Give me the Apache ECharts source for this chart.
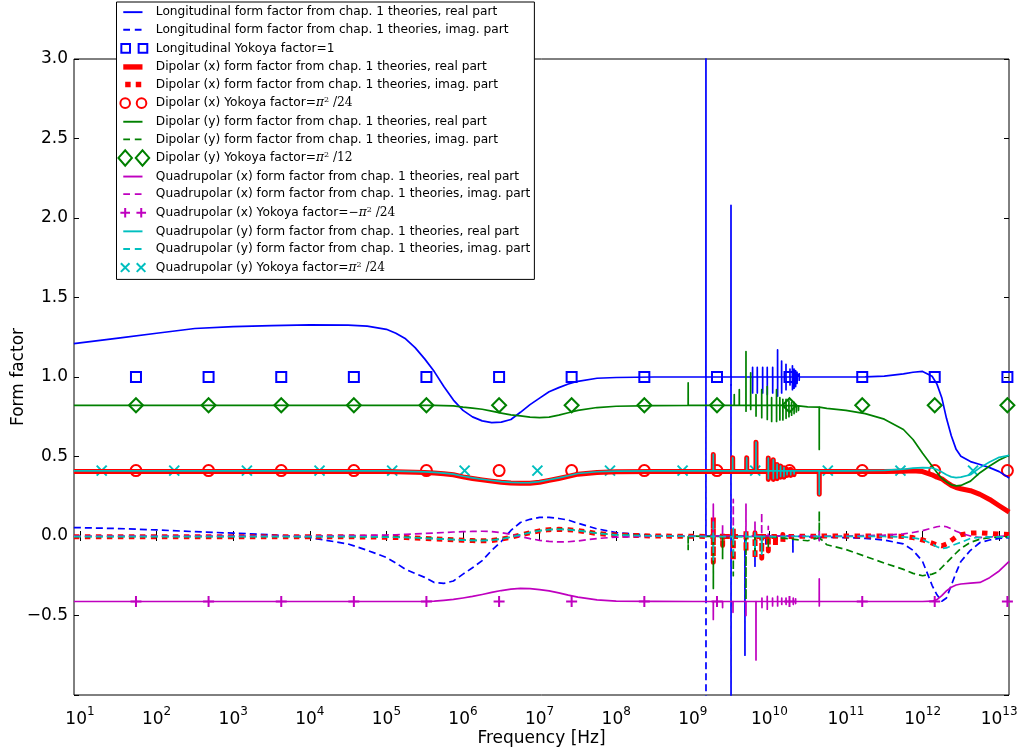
<!DOCTYPE html>
<html>
<head>
<meta charset="utf-8">
<script src="https://cdn.jsdelivr.net/npm/echarts@6/dist/echarts.min.js"></script>
<style>
  html, body { margin: 0; padding: 0; background: #fff; }
  #chart { width: 1023px; height: 751px; }
</style>
</head>
<body>
<div id="chart"></div>
<script>
// ---------- frequency grids [Hz] ----------
const freqLow = [8.32, 31.6, 100, 316, 1000, 3160, 1e4, 3.16e4, 5.62e4, 1e5, 1.33e5, 1.78e5, 2.37e5,
  3.16e5, 4.22e5, 5.62e5, 7.5e5, 1e6, 1.33e6, 1.78e6, 2.37e6, 3.16e6, 4.22e6, 5.62e6, 7.5e6, 1e7,
  1.33e7, 1.78e7, 2.37e7, 3.16e7, 5.62e7, 1e8, 3.16e8, 1e9];
const freqHigh = [3.16e10, 5.62e10, 1e11, 1.78e11, 3.16e11, 5.62e11, 7.5e11, 1e12, 1.33e12, 1.54e12,
  1.78e12, 2.05e12, 2.37e12, 2.74e12, 3.16e12, 4.22e12, 5.62e12, 7.5e12, 1e13, 1.35e13];

// ---------- longitudinal form factor ----------
const longRealLow = [1.21, 1.245, 1.275, 1.305, 1.317, 1.323, 1.328, 1.326, 1.32, 1.30, 1.275, 1.24,
  1.185, 1.114, 1.034, 0.94, 0.855, 0.79, 0.749, 0.724, 0.713, 0.716, 0.733, 0.778, 0.826, 0.867,
  0.907, 0.933, 0.956, 0.973, 0.992, 0.997, 1.0, 1.0];
const longRealHigh = [1.0, 1.0, 1.0, 1.001, 1.005, 1.02, 1.03, 1.035, 1.005, 0.955, 0.87, 0.74,
  0.63, 0.545, 0.502, 0.468, 0.45, 0.43, 0.405, 0.365];
const longImagLow = [0.053, 0.047, 0.038, 0.027, 0.018, 0.008, -0.01, -0.05, -0.09, -0.135, -0.17,
  -0.21, -0.235, -0.26, -0.293, -0.298, -0.283, -0.24, -0.2, -0.155, -0.09, -0.035, 0.035, 0.085,
  0.105, 0.117, 0.117, 0.11, 0.1, 0.08, 0.045, 0.021, 0.003, 0.0];
const longImagHigh = [-0.005, -0.008, -0.01, -0.015, -0.025, -0.05, -0.09, -0.16, -0.31, -0.37,
  -0.41, -0.39, -0.31, -0.23, -0.16, -0.09, -0.041, -0.025, -0.015, -0.01];

// ---------- dipolar (x) form factor ----------
const dipXRealLow = [0.405, 0.405, 0.405, 0.405, 0.405, 0.405, 0.405, 0.405, 0.405, 0.405, 0.404,
  0.403, 0.401, 0.399, 0.396, 0.392, 0.385, 0.372, 0.362, 0.353, 0.345, 0.338, 0.333, 0.331, 0.332,
  0.338, 0.35, 0.362, 0.375, 0.389, 0.4, 0.404, 0.405, 0.405];
const dipXRealHigh = [0.405, 0.405, 0.405, 0.405, 0.406, 0.408, 0.41, 0.405, 0.385, 0.37, 0.36,
  0.338, 0.318, 0.305, 0.297, 0.285, 0.262, 0.23, 0.19, 0.15];
const dipXImagLow = [-0.005, -0.005, -0.005, -0.005, -0.005, -0.005, -0.005, -0.005, -0.006, -0.008,
  -0.009, -0.01, -0.012, -0.015, -0.018, -0.021, -0.024, -0.027, -0.029, -0.03, -0.028, -0.02,
  -0.008, 0.006, 0.02, 0.032, 0.04, 0.042, 0.04, 0.034, 0.016, 0.006, 0.0, -0.002];
const dipXImagHigh = [-0.002, 0.0, 0.0, 0.0, 0.0, -0.003, -0.01, -0.025, -0.045, -0.056, -0.062,
  -0.05, -0.028, -0.006, 0.008, 0.018, 0.02, 0.016, 0.012, 0.01];

// ---------- dipolar (y) form factor ----------
const dipYRealLow = [0.821, 0.821, 0.821, 0.821, 0.821, 0.821, 0.821, 0.821, 0.821, 0.821, 0.821,
  0.821, 0.821, 0.821, 0.821, 0.82, 0.818, 0.81, 0.804, 0.797, 0.785, 0.773, 0.762, 0.755, 0.748,
  0.744, 0.748, 0.76, 0.775, 0.79, 0.808, 0.816, 0.82, 0.821];
const dipYRealHigh = [0.812, 0.803, 0.79, 0.77, 0.735, 0.67, 0.607, 0.52, 0.44, 0.4, 0.362, 0.34,
  0.322, 0.315, 0.318, 0.345, 0.398, 0.44, 0.478, 0.508];
const dipYImagLow = [-0.003, -0.003, -0.003, -0.003, -0.003, -0.003, -0.003, -0.003, -0.004, -0.006,
  -0.007, -0.008, -0.01, -0.013, -0.016, -0.019, -0.022, -0.025, -0.027, -0.028, -0.026, -0.018,
  -0.006, 0.008, 0.022, 0.034, 0.041, 0.043, 0.041, 0.035, 0.018, 0.007, 0.001, -0.001];
const dipYImagHigh = [-0.03, -0.055, -0.085, -0.128, -0.17, -0.21, -0.235, -0.25, -0.24, -0.228,
  -0.198, -0.168, -0.138, -0.107, -0.078, -0.04, -0.02, -0.01, -0.006, -0.005];

// ---------- quadrupolar (x) form factor ----------
const quadXRealLow = [-0.412, -0.412, -0.412, -0.412, -0.412, -0.412, -0.412, -0.412, -0.412, -0.412,
  -0.412, -0.412, -0.412, -0.412, -0.41, -0.405, -0.399, -0.39, -0.38, -0.368, -0.355, -0.343,
  -0.334, -0.33, -0.331, -0.337, -0.345, -0.358, -0.372, -0.384, -0.402, -0.409, -0.411, -0.412];
const quadXRealHigh = [-0.412, -0.412, -0.412, -0.412, -0.412, -0.412, -0.412, -0.412, -0.41, -0.4,
  -0.375, -0.345, -0.322, -0.308, -0.302, -0.296, -0.292, -0.262, -0.22, -0.16];
const quadXImagLow = [0.0, 0.0, 0.0, 0.0, 0.0, 0.0, 0.0, 0.002, 0.004, 0.006, 0.008, 0.01, 0.013,
  0.016, 0.019, 0.022, 0.025, 0.027, 0.029, 0.03, 0.028, 0.021, 0.01, -0.004, -0.017, -0.027,
  -0.034, -0.037, -0.036, -0.031, -0.016, -0.007, -0.001, 0.0];
const quadXImagHigh = [0.0, 0.0, 0.0, 0.002, 0.005, 0.013, 0.022, 0.034, 0.05, 0.058, 0.063, 0.058,
  0.045, 0.03, 0.018, 0.0, -0.01, -0.006, -0.002, 0.0];

// ---------- quadrupolar (y) form factor ----------
const quadYRealLow = [0.409, 0.409, 0.409, 0.409, 0.409, 0.409, 0.409, 0.409, 0.409, 0.409, 0.408,
  0.407, 0.405, 0.403, 0.4, 0.396, 0.389, 0.376, 0.366, 0.357, 0.349, 0.342, 0.337, 0.335, 0.336,
  0.342, 0.354, 0.366, 0.379, 0.393, 0.404, 0.408, 0.409, 0.409];
const quadYRealHigh = [0.409, 0.41, 0.41, 0.411, 0.413, 0.42, 0.427, 0.43, 0.428, 0.418, 0.403,
  0.385, 0.372, 0.367, 0.37, 0.385, 0.43, 0.465, 0.495, 0.507];
const quadYImagLow = [-0.004, -0.004, -0.004, -0.004, -0.004, -0.004, -0.004, -0.004, -0.005, -0.007,
  -0.008, -0.009, -0.011, -0.014, -0.017, -0.02, -0.023, -0.026, -0.028, -0.029, -0.027, -0.019,
  -0.007, 0.007, 0.021, 0.033, 0.04, 0.042, 0.04, 0.034, 0.017, 0.006, 0.0, -0.002];
const quadYImagHigh = [-0.002, -0.002, -0.002, -0.002, -0.003, -0.006, -0.012, -0.022, -0.05, -0.068,
  -0.079, -0.075, -0.062, -0.05, -0.04, -0.015, -0.008, -0.006, -0.005, -0.005];

// ---------- resonances: [frequency, baseline, first extreme, second extreme] ----------
const longRealSpikes = [[1.486e9, 1.0, 3.6, 1.0], [3.155e9, 1.0, 2.08, 0.95], [6.04e9, 1.0, 1.06, 0.9],
  [6.95e9, 1.0, 1.06, 0.9], [8.17e9, 1.0, 1.06, 0.9], [9.38e9, 1.0, 1.06, 0.89], [1.104e10, 1.0, 1.06, 0.9],
  [1.28e10, 1.0, 1.17, 0.88], [1.445e10, 1.0, 1.1, 0.9], [1.648e10, 1.0, 1.08, 0.92],
  [1.858e10, 1.0, 1.05, 0.95], [2.0e10, 1.0, 1.07, 0.92], [2.1e10, 1.0, 1.05, 0.93],
  [2.2e10, 1.0, 1.04, 0.94], [2.3e10, 1.0, 1.03, 0.96], [2.45e10, 1.0, 1.02, 0.98]];
const longImagSpikes = [[1.486e9, 0.0, 1.0, -1.3], [3.155e9, 0.0, 0.95, -1.3], [4.8e9, 0.0, -0.75, 0.0],
  [6.49e9, 0.0, -0.19, 0.0], [9.0e9, 0.0, -0.05, 0.0], [2.03e10, 0.0, -0.1, 0.0]];
const dipXRealSpikes = [[1.854e9, 0.405, 0.513], [3.32e9, 0.405, 0.492], [5.06e9, 0.405, 0.492],
  [6.69e9, 0.405, 0.59], [9.68e9, 0.405, 0.49, 0.356], [1.125e10, 0.405, 0.48, 0.356],
  [1.26e10, 0.405, 0.45, 0.36], [1.4e10, 0.405, 0.44, 0.37], [1.55e10, 0.405, 0.43, 0.37],
  [1.7e10, 0.405, 0.42, 0.38], [1.9e10, 0.405, 0.42, 0.38], [2.1e10, 0.405, 0.415, 0.385],
  [4.48e10, 0.405, 0.262]];
const dipXImagSpikes = [[1.854e9, -0.003, 0.117, -0.165], [2.45e9, -0.003, 0.03, -0.06],
  [3.38e9, -0.003, 0.06, -0.157], [4.95e9, -0.003, 0.04, -0.1], [6.49e9, -0.003, 0.02, -0.146],
  [7.94e9, -0.003, 0.02, -0.14], [9.68e9, -0.003, 0.01, -0.095], [1.2e10, -0.003, 0.01, -0.06],
  [1.5e10, -0.003, 0.01, -0.04]];
const dipYRealSpikes = [[8.71e8, 0.821, 0.963], [3.48e9, 0.821, 0.89], [4.05e9, 0.821, 0.92],
  [4.95e9, 0.821, 1.16, 0.785], [5.7e9, 0.821, 1.026, 0.796], [6.69e9, 0.821, 0.89, 0.754],
  [7.94e9, 0.821, 0.92, 0.744], [9.38e9, 0.821, 0.94, 0.733], [1.07e10, 0.821, 0.87, 0.72],
  [1.24e10, 0.821, 0.92, 0.72], [1.37e10, 0.821, 0.87, 0.73], [1.5e10, 0.821, 0.86, 0.73],
  [1.65e10, 0.82, 0.86, 0.74], [1.8e10, 0.82, 0.85, 0.75], [1.95e10, 0.82, 0.84, 0.76],
  [2.1e10, 0.82, 0.84, 0.77], [2.25e10, 0.818, 0.83, 0.78], [2.4e10, 0.818, 0.825, 0.79],
  [4.48e10, 0.81, 0.544]];
const dipYImagSpikes = [[8.71e8, -0.003, -0.085], [1.854e9, -0.003, 0.02, -0.33], [2.45e9, -0.003, -0.146],
  [3.38e9, -0.003, -0.25], [4.95e9, -0.003, -0.4], [6.49e9, -0.003, -0.12], [7.94e9, -0.003, -0.1],
  [9.68e9, -0.003, -0.08], [4.48e10, -0.01, 0.157, -0.04]];
const quadXRealSpikes = [[1.854e9, -0.412, -0.525], [2.45e9, -0.412, -0.45], [3.35e9, -0.412, -0.48],
  [4.95e9, -0.412, -0.5], [6.69e9, -0.412, -0.78], [8.0e9, -0.412, -0.39, -0.45],
  [9.38e9, -0.412, -0.38, -0.46], [1.1e10, -0.412, -0.39, -0.44], [1.28e10, -0.412, -0.38, -0.44],
  [1.45e10, -0.412, -0.39, -0.43], [1.65e10, -0.412, -0.39, -0.43], [1.85e10, -0.412, -0.4, -0.42],
  [2.05e10, -0.412, -0.39, -0.43], [2.2e10, -0.412, -0.395, -0.425], [2.35e10, -0.412, -0.4, -0.42],
  [4.48e10, -0.412, -0.27, -0.44]];
const quadXImagSpikes = [[1.854e9, 0.0, 0.2], [2.45e9, 0.0, 0.073], [3.38e9, 0.0, 0.23],
  [4.95e9, 0.0, 0.2], [6.49e9, 0.0, 0.094], [7.94e9, 0.0, 0.147], [9.68e9, 0.0, 0.06],
  [4.48e10, 0.0, 0.03, -0.03]];
const quadYRealSpikes = [[1.854e9, 0.409, 0.513], [3.32e9, 0.409, 0.492], [5.06e9, 0.409, 0.492],
  [6.69e9, 0.409, 0.59], [9.68e9, 0.409, 0.49, 0.36], [1.125e10, 0.409, 0.48, 0.36],
  [1.26e10, 0.409, 0.45, 0.365], [1.4e10, 0.409, 0.44, 0.375], [1.55e10, 0.409, 0.43, 0.375],
  [1.7e10, 0.409, 0.42, 0.385], [1.9e10, 0.409, 0.42, 0.385], [2.1e10, 0.409, 0.415, 0.39],
  [4.48e10, 0.409, 0.262]];
const quadYImagSpikes = [[1.854e9, -0.004, 0.1, -0.15], [3.38e9, -0.004, 0.05, -0.14],
  [4.95e9, -0.004, 0.02, -0.09], [6.49e9, -0.004, 0.02, -0.12], [7.94e9, -0.004, 0.01, -0.12]];

// ---------- Yokoya factors ----------
const yokoyaFreqA = [53.8, 477, 4240, 3.76e4, 3.33e5, 2.96e6, 2.62e7, 2.33e8, 2.07e9, 1.83e10,
  1.63e11, 1.44e12, 1.28e13];
const yokoyaFreqB = [19.2, 170, 1510, 1.34e4, 1.19e5, 1.05e6, 9.36e6, 8.3e7, 7.36e8, 6.53e9,
  5.79e10, 5.14e11, 4.56e12];
const yokoyaLong = 1.0;
const yokoyaDipX = 0.4112;   // pi^2/24
const yokoyaDipY = 0.8225;   // pi^2/12
const yokoyaQuadX = -0.4112; // -pi^2/24
const yokoyaQuadY = 0.4112;  // pi^2/24

// ---------- axes ----------
const decadeTicks = [10, 100, 1e3, 1e4, 1e5, 1e6, 1e7, 1e8, 1e9, 1e10, 1e11, 1e12, 1e13];
const freqMin = 8.35, freqMax = 1.343e13;
const formMin = -1.0, formMax = 3.0, formStep = 0.5;

const BLUE = '#0000ff', GREEN = '#008000', RED = '#ff0000', MAGENTA = '#bf00bf', CYAN = '#00bfbf';
const FONT = 'DejaVu Sans';

// assemble a curve from the two grids plus its narrow resonances
function curve(low, high, spikes) {
  const pts = [];
  freqLow.forEach((f, i) => pts.push([f, low[i]]));
  freqHigh.forEach((f, i) => pts.push([f, high[i]]));
  spikes.forEach(([f, base, e1, e2]) => {
    pts.push([f / 1.002, base], [f / 1.0005, e1], [f * 1.0005, e2 === undefined ? base : e2], [f * 1.002, base]);
  });
  pts.sort((a, b) => a[0] - b[0]);
  return pts;
}

function lineSeries(name, data, color, width, dash) {
  return {
    type: 'line', name, data, symbol: 'none', silent: true, animation: false, clip: true,
    itemStyle: { color },
    lineStyle: { color, width, type: dash || 'solid', cap: 'butt', join: 'round' },
    emphasis: { disabled: true }
  };
}

function markerSeries(name, freqs, value, symbol, size, color) {
  return {
    type: 'scatter', name, symbol, symbolSize: size, silent: true, animation: false,
    data: freqs.map(f => [f, value]),
    itemStyle: { color: 'none', borderColor: color, borderWidth: 2, opacity: 1 },
    emphasis: { disabled: true }
  };
}

const NAMES = [
  'Longitudinal form factor from chap. 1 theories, real part',
  'Longitudinal form factor from chap. 1 theories, imag. part',
  'Longitudinal Yokoya factor=1',
  'Dipolar (x) form factor from chap. 1 theories, real part',
  'Dipolar (x) form factor from chap. 1 theories, imag. part',
  'Dipolar (x) Yokoya factor=π² /24',
  'Dipolar (y) form factor from chap. 1 theories, real part',
  'Dipolar (y) form factor from chap. 1 theories, imag. part',
  'Dipolar (y) Yokoya factor=π² /12',
  'Quadrupolar (x) form factor from chap. 1 theories, real part',
  'Quadrupolar (x) form factor from chap. 1 theories, imag. part',
  'Quadrupolar (x) Yokoya factor=−π² /24',
  'Quadrupolar (y) form factor from chap. 1 theories, real part',
  'Quadrupolar (y) form factor from chap. 1 theories, imag. part',
  'Quadrupolar (y) Yokoya factor=π² /24'
];

const DASH = [7, 4];
const series = [
  lineSeries(NAMES[0], curve(longRealLow, longRealHigh, longRealSpikes), BLUE, 1.7),
  lineSeries(NAMES[1], curve(longImagLow, longImagHigh, longImagSpikes), BLUE, 1.7, DASH),
  markerSeries(NAMES[2], yokoyaFreqA, yokoyaLong, 'rect', 10, BLUE),
  lineSeries(NAMES[3], curve(dipXRealLow, dipXRealHigh, dipXRealSpikes), RED, 5),
  lineSeries(NAMES[4], curve(dipXImagLow, dipXImagHigh, dipXImagSpikes), RED, 5, [5.5, 5.5]),
  markerSeries(NAMES[5], yokoyaFreqA, yokoyaDipX, 'circle', 11, RED),
  lineSeries(NAMES[6], curve(dipYRealLow, dipYRealHigh, dipYRealSpikes), GREEN, 1.7),
  lineSeries(NAMES[7], curve(dipYImagLow, dipYImagHigh, dipYImagSpikes), GREEN, 1.7, DASH),
  markerSeries(NAMES[8], yokoyaFreqA, yokoyaDipY, 'diamond', [14, 14], GREEN),
  lineSeries(NAMES[9], curve(quadXRealLow, quadXRealHigh, quadXRealSpikes), MAGENTA, 1.7),
  lineSeries(NAMES[10], curve(quadXImagLow, quadXImagHigh, quadXImagSpikes), MAGENTA, 1.7, DASH),
  markerSeries(NAMES[11], yokoyaFreqA, yokoyaQuadX, 'path://M0,5H10M5,0V10', 11, MAGENTA),
  lineSeries(NAMES[12], curve(quadYRealLow, quadYRealHigh, quadYRealSpikes), CYAN, 1.7),
  lineSeries(NAMES[13], curve(quadYImagLow, quadYImagHigh, quadYImagSpikes), CYAN, 1.7, DASH),
  markerSeries(NAMES[14], yokoyaFreqB, yokoyaQuadY, 'path://M0,0L10,10M10,0L0,10', 10, CYAN)
];

// legend handles, drawn inside a 34 x 18 box
const BOX = 'M0,0M34,18';
const ICON = {
  solid: BOX + 'M6,8H26V10H6Z',
  dashed: BOX + 'M6,8H13V10H6Z M18,8H25V10H18Z',
  thick: BOX + 'M6,6.2H26V11.8H6Z',
  dotted: BOX + 'M8,6.2H13.7V11.8H8Z M19,6.2H24.7V11.8H19Z',
  squares: BOX + 'M4,4.5H13V13.5H4Z M22,4.5H31V13.5H22Z',
  circles: BOX + 'M3,9a5,5 0 1,0 10,0a5,5 0 1,0 -10,0Z M20,9a5,5 0 1,0 10,0a5,5 0 1,0 -10,0Z',
  diamonds: BOX + 'M1,9L8,1L15,9L8,17Z M19,9L26,1L33,9L26,17Z',
  plus: BOX + 'M3,9H13M8,4V14 M19.7,9H29.7M24.7,4V14',
  cross: BOX + 'M3.5,4.5L12.5,13.5M12.5,4.5L3.5,13.5 M20,4.5L29,13.5M29,4.5L20,13.5'
};
function filled(name, icon, color) {
  return { name, icon: 'path://' + icon, itemStyle: { color, borderWidth: 0 } };
}
function stroked(name, icon, color) {
  return { name, icon: 'path://' + icon, itemStyle: { color: 'rgba(0,0,0,0)', borderColor: color, borderWidth: 2 } };
}
const legendData = [
  filled(NAMES[0], ICON.solid, BLUE), filled(NAMES[1], ICON.dashed, BLUE), stroked(NAMES[2], ICON.squares, BLUE),
  filled(NAMES[3], ICON.thick, RED), filled(NAMES[4], ICON.dotted, RED), stroked(NAMES[5], ICON.circles, RED),
  filled(NAMES[6], ICON.solid, GREEN), filled(NAMES[7], ICON.dashed, GREEN), stroked(NAMES[8], ICON.diamonds, GREEN),
  filled(NAMES[9], ICON.solid, MAGENTA), filled(NAMES[10], ICON.dashed, MAGENTA), stroked(NAMES[11], ICON.plus, MAGENTA),
  filled(NAMES[12], ICON.solid, CYAN), filled(NAMES[13], ICON.dashed, CYAN), stroked(NAMES[14], ICON.cross, CYAN)
];

function legendLabel(name) {
  if (name.indexOf('π') < 0) return name;
  const eq = name.indexOf('=');
  const m = name.slice(eq + 1).match(/^(−?)π² \/(\d+)$/);
  return name.slice(0, eq + 1) + (m[1] ? '{mr|−}' : '') + '{mi|π}{sup|2}{mr| /' + m[2] + '}';
}

function decadeLabel(v) {
  const e = Math.round(Math.log10(v));
  return '{b|10}{s|' + e + '}';
}

function formLabel(v) {
  if (Math.abs(v - formMin) < 1e-9) return '';
  const s = Math.abs(v).toFixed(1);
  return v < 0 ? '\u2212' + s : s;
}

const xAxisBase = {
  type: 'log', logBase: 10, min: freqMin, max: freqMax,
  axisLine: { show: false }, splitLine: { show: false }, minorTick: { show: false },
  axisTick: { show: true, inside: true, length: 5, customValues: decadeTicks, lineStyle: { color: '#000', width: 1 } }
};
const yAxisBase = {
  type: 'value', min: formMin, max: formMax, interval: formStep,
  axisLine: { show: false }, splitLine: { show: false },
  axisTick: { show: true, inside: true, length: 5, lineStyle: { color: '#000', width: 1 } }
};

const option = {
  backgroundColor: '#fff',
  animation: false,
  grid: {
    left: 74, right: 14, top: 59, bottom: 56, containLabel: false, outerBoundsMode: 'none',
    show: true, borderColor: '#000', borderWidth: 1, backgroundColor: 'transparent'
  },
  xAxis: [
    Object.assign({}, xAxisBase, {
      position: 'bottom',
      axisLabel: {
        customValues: decadeTicks, formatter: decadeLabel, margin: 11, color: '#000',
        rich: {
          b: { fontFamily: FONT, fontSize: 17, lineHeight: 28, color: '#000' },
          s: { fontFamily: FONT, fontSize: 12, lineHeight: 12, verticalAlign: 'top', color: '#000' }
        }
      },
      name: 'Frequency [Hz]', nameLocation: 'middle', nameGap: 35, nameMoveOverlap: false,
      nameTextStyle: { fontFamily: FONT, fontSize: 17, color: '#000' }
    }),
    Object.assign({}, xAxisBase, { position: 'top', axisLabel: { show: false } })
  ],
  yAxis: [
    Object.assign({}, yAxisBase, {
      position: 'left',
      axisLabel: { formatter: formLabel, margin: 6, fontFamily: FONT, fontSize: 17, color: '#000' },
      name: 'Form factor', nameLocation: 'middle', nameGap: 47, nameRotate: 90, nameMoveOverlap: false,
      nameTextStyle: { fontFamily: FONT, fontSize: 17, color: '#000' }
    }),
    Object.assign({}, yAxisBase, { position: 'right', axisLabel: { show: false } })
  ],
  legend: {
    orient: 'vertical', left: 116.5, top: 2,
    itemWidth: 34, itemHeight: 17.3, itemGap: 0.3,
    padding: [1.5, 4, 2.2, 0],
    backgroundColor: '#fff', borderColor: '#000', borderWidth: 1, borderRadius: 0,
    selectedMode: false, z: 10,
    data: legendData,
    formatter: legendLabel,
    textStyle: {
      fontFamily: FONT, fontSize: 12.2, color: '#000', lineHeight: 14,
      rich: {
        mi: { fontFamily: 'DejaVu Serif', fontStyle: 'italic', fontSize: 12.2, lineHeight: 14, color: '#000' },
        mr: { fontFamily: 'DejaVu Serif', fontSize: 12.2, lineHeight: 14, color: '#000' },
        sup: { fontFamily: 'DejaVu Serif', fontSize: 8, lineHeight: 10, verticalAlign: 'top', color: '#000' }
      }
    }
  },
  series
};

const chart = echarts.init(document.getElementById('chart'), null, { renderer: 'canvas' });
chart.setOption(option);
</script>
</body>
</html>
